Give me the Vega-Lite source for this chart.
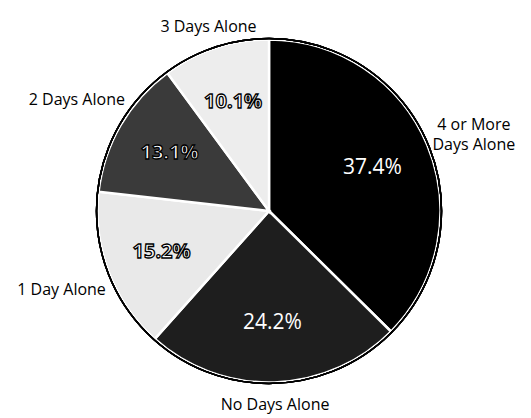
{
  "$schema": "https://vega.github.io/schema/vega-lite/v6.json",
  "width": 524,
  "height": 414,
  "autosize": "none",
  "padding": {"left": 7, "right": 0, "top": 4, "bottom": 0},
  "background": "white",
  "config": {"view": {"stroke": null}},
  "data": {
    "values": [
      {"group": "4 or More Days Alone", "label": "4 or More\nDays Alone", "pct": 37.4, "pctText": "37.4%", "rank": 1, "tone": "dark", "side": "side"},
      {"group": "No Days Alone", "label": "No Days Alone", "pct": 24.2, "pctText": "24.2%", "rank": 2, "tone": "dark", "side": "pole"},
      {"group": "1 Day Alone", "label": "1 Day Alone", "pct": 15.2, "pctText": "15.2%", "rank": 3, "tone": "light", "side": "side"},
      {"group": "2 Days Alone", "label": "2 Days Alone", "pct": 13.1, "pctText": "13.1%", "rank": 4, "tone": "light", "side": "side"},
      {"group": "3 Days Alone", "label": "3 Days Alone", "pct": 10.1, "pctText": "10.1%", "rank": 5, "tone": "light", "side": "pole"}
    ]
  },
  "layer": [
    {
      "mark": {"type": "arc", "outerRadius": 171.5, "stroke": "white", "strokeWidth": 2.5},
      "encoding": {
        "theta": {"field": "pct", "type": "quantitative", "stack": true},
        "order": {"field": "rank", "type": "quantitative"},
        "color": {
          "field": "group",
          "type": "nominal",
          "legend": null,
          "scale": {
            "domain": ["4 or More Days Alone", "No Days Alone", "1 Day Alone", "2 Days Alone", "3 Days Alone"],
            "range": ["#000000", "#1e1e1e", "#e9e9e9", "#3a3a3a", "#ededed"]
          }
        }
      }
    },
    {
      "mark": {"type": "arc", "outerRadius": 172.5, "filled": false, "stroke": "black", "strokeWidth": 1.5},
      "encoding": {}
    },
    {
      "mark": {"type": "text", "radius": 112, "font": "Open Sans", "fontSize": 21, "fill": "white"},
      "encoding": {
        "theta": {"field": "pct", "type": "quantitative", "stack": true},
        "order": {"field": "rank", "type": "quantitative"},
        "text": {"condition": {"test": "datum.tone == 'dark'", "field": "pctText"}, "value": ""}
      }
    },
    {
      "mark": {"type": "text", "radius": 115, "font": "Open Sans", "fontSize": 20, "fontWeight": "bold", "fill": "white", "stroke": "black", "strokeWidth": 1.3},
      "encoding": {
        "theta": {"field": "pct", "type": "quantitative", "stack": true},
        "order": {"field": "rank", "type": "quantitative"},
        "text": {"condition": {"test": "datum.tone == 'light'", "field": "pctText"}, "value": ""}
      }
    },
    {
      "mark": {"type": "text", "radius": 222, "font": "Open Sans", "fontSize": 16, "fill": "black", "lineBreak": "\n", "lineHeight": 20},
      "encoding": {
        "theta": {"field": "pct", "type": "quantitative", "stack": true},
        "order": {"field": "rank", "type": "quantitative"},
        "text": {"condition": {"test": "datum.side == 'side'", "field": "label"}, "value": ""}
      }
    },
    {
      "mark": {"type": "text", "radius": 194, "font": "Open Sans", "fontSize": 16, "fill": "black"},
      "encoding": {
        "theta": {"field": "pct", "type": "quantitative", "stack": true},
        "order": {"field": "rank", "type": "quantitative"},
        "text": {"condition": {"test": "datum.side == 'pole'", "field": "label"}, "value": ""}
      }
    }
  ]
}
